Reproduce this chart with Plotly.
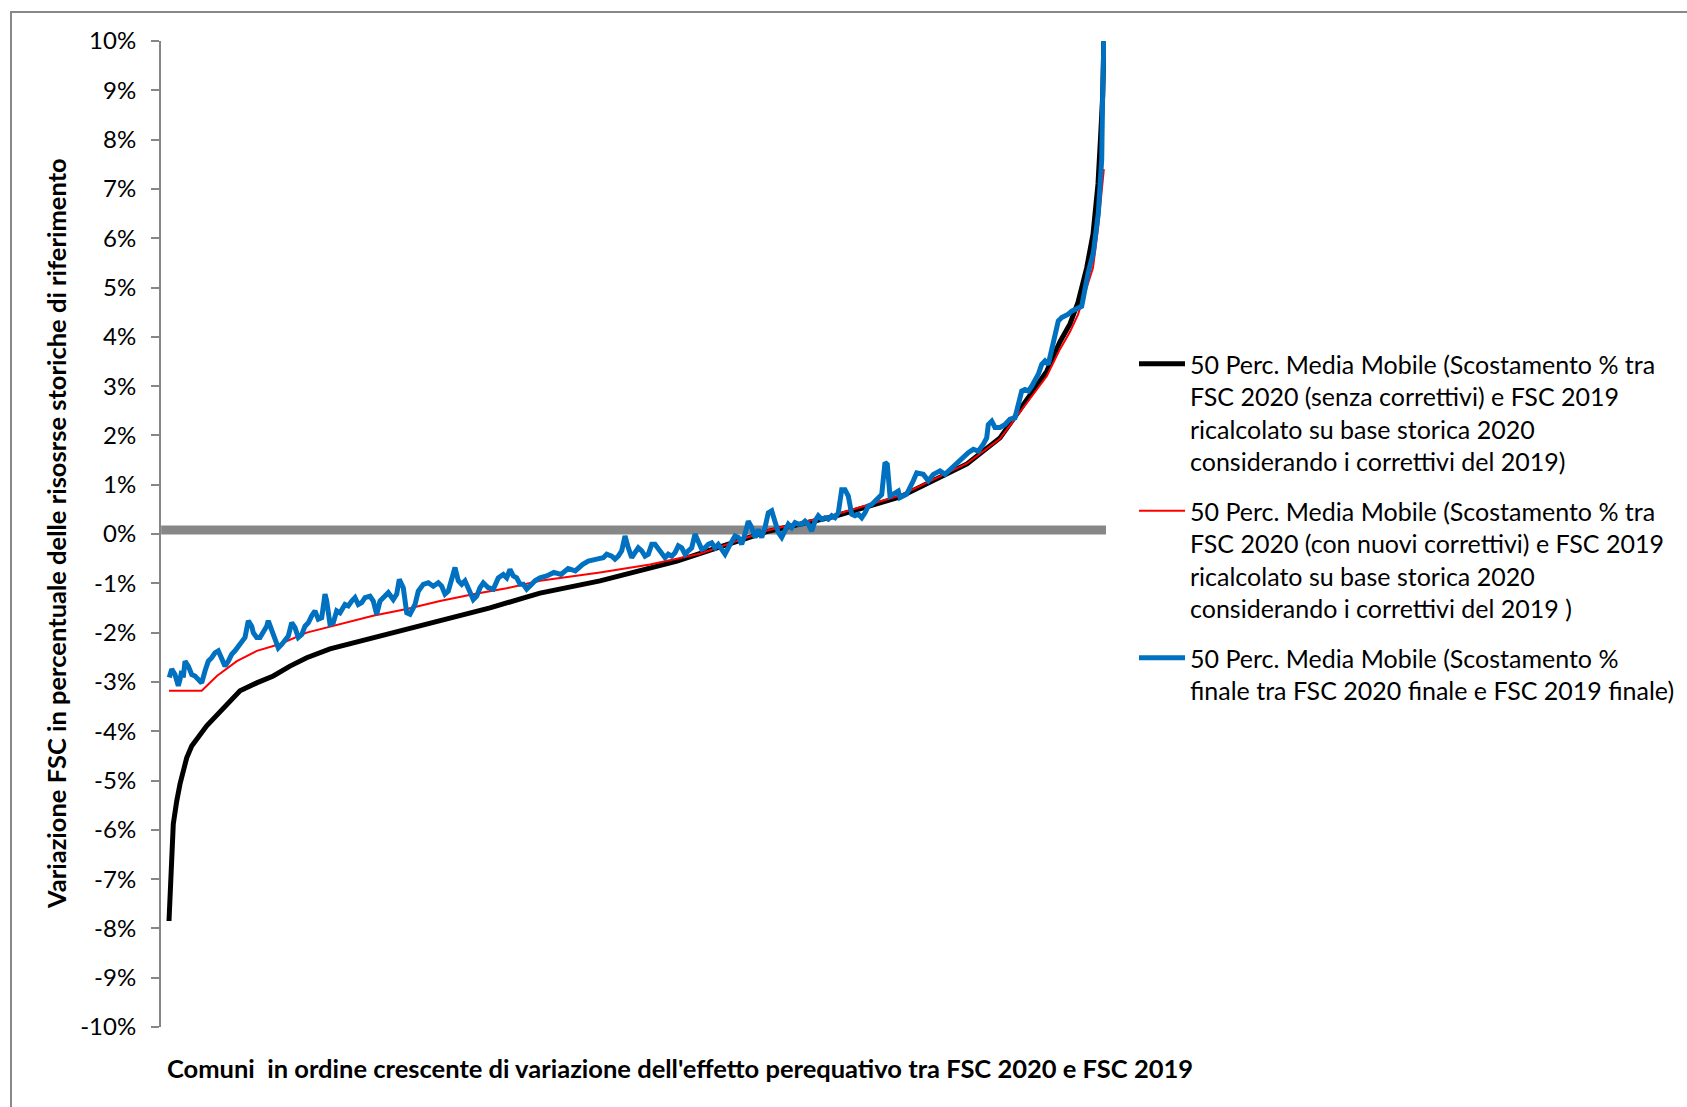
import plotly.graph_objects as go

# ---- data (rank of comune, % value) ----
N_COMUNI = 6615

tick_vals = list(range(-10, 11))
tick_text = [f"{v}%" for v in tick_vals]

soglia_rank = [1, N_COMUNI]
soglia_val = [0.08, 0.08]

nero = [(56, -7.85), (68, -6.84), (86, -5.88), (110, -5.42), (133, -5.07), (180, -4.54),
        (215, -4.30), (320, -3.89), (436, -3.53), (553, -3.18), (670, -3.02), (786, -2.88),
        (903, -2.68), (1020, -2.51), (1183, -2.33), (1370, -2.19), (1603, -2.00), (1834, -1.83),
        (2070, -1.66), (2303, -1.50), (2534, -1.30), (2653, -1.20), (3073, -0.95), (3423, -0.70),
        (3612, -0.55), (3892, -0.28), (4242, 0.05), (4704, 0.35), (4942, 0.55), (5173, 0.75),
        (5642, 1.42), (5873, 1.95), (5990, 2.43), (6104, 2.90), (6200, 3.30), (6293, 3.90),
        (6363, 4.26), (6419, 4.70), (6480, 5.40), (6524, 6.08), (6559, 7.10), (6578, 8.10),
        (6592, 8.90), (6600, 10.0)]

rosso = [(56, -3.18), (285, -3.18), (391, -2.88), (531, -2.58), (671, -2.37), (833, -2.23),
         (1020, -2.00), (1253, -1.83), (1484, -1.66), (1720, -1.52), (1953, -1.36), (2184, -1.22),
         (2420, -1.10), (2653, -0.95), (3073, -0.78), (3423, -0.62), (3773, -0.40), (4242, 0.07),
         (4704, 0.38), (5173, 0.78), (5642, 1.43), (5873, 1.93), (6104, 2.82), (6200, 3.20),
         (6293, 3.75), (6363, 4.10), (6419, 4.45), (6480, 5.00), (6524, 5.40), (6559, 6.20),
         (6600, 7.40)]

blu = [(58, -2.91), (75, -2.74), (98, -2.85), (121, -3.08), (133, -2.95), (145, -2.78),
       (156, -2.91), (168, -2.58), (191, -2.68), (215, -2.85), (238, -2.88), (261, -2.95),
       (285, -3.02), (308, -2.78), (331, -2.58), (355, -2.51), (378, -2.41), (401, -2.37),
       (425, -2.51), (448, -2.68), (471, -2.58), (495, -2.44), (518, -2.37), (541, -2.27),
       (565, -2.17), (588, -2.10), (611, -1.76), (635, -1.87), (646, -2.00), (670, -2.10),
       (693, -2.10), (716, -2.00), (740, -1.87), (751, -1.76), (775, -1.97), (798, -2.10),
       (821, -2.31), (845, -2.24), (868, -2.14), (891, -2.07), (915, -1.80), (938, -1.90),
       (961, -2.10), (985, -2.04), (1008, -1.87), (1031, -1.80), (1055, -1.66), (1078, -1.56),
       (1101, -1.73), (1125, -1.70), (1148, -1.22), (1160, -1.36), (1183, -1.83), (1206, -1.80),
       (1230, -1.56), (1253, -1.60), (1288, -1.43), (1311, -1.46), (1335, -1.36), (1358, -1.29),
       (1381, -1.43), (1405, -1.39), (1428, -1.29), (1463, -1.26), (1486, -1.36), (1510, -1.63),
       (1533, -1.36), (1568, -1.26), (1591, -1.19), (1626, -1.33), (1650, -1.22), (1668, -0.92),
       (1696, -1.09), (1720, -1.60), (1743, -1.63), (1778, -1.43), (1801, -1.16), (1836, -1.02),
       (1871, -0.99), (1906, -1.06), (1941, -0.99), (1965, -1.06), (1988, -1.22), (2011, -1.16),
       (2035, -0.89), (2058, -0.68), (2081, -0.95), (2105, -1.02), (2128, -0.95), (2163, -1.16),
       (2186, -1.33), (2210, -1.26), (2233, -1.09), (2256, -0.99), (2291, -1.09), (2326, -1.12),
       (2361, -0.89), (2396, -0.82), (2420, -0.89), (2443, -0.72), (2466, -0.85), (2490, -0.89),
       (2513, -1.02), (2536, -1.02), (2560, -1.12), (2595, -1.02), (2618, -0.95), (2653, -0.89),
       (2700, -0.85), (2750, -0.78), (2800, -0.82), (2850, -0.70), (2900, -0.75), (2950, -0.62),
       (2991, -0.55), (3050, -0.51), (3096, -0.48), (3120, -0.41), (3155, -0.45), (3178, -0.51),
       (3201, -0.45), (3225, -0.34), (3248, -0.04), (3271, -0.28), (3295, -0.48), (3318, -0.38),
       (3341, -0.28), (3365, -0.34), (3388, -0.45), (3411, -0.41), (3435, -0.21), (3458, -0.21),
       (3481, -0.31), (3505, -0.41), (3528, -0.48), (3551, -0.41), (3575, -0.45), (3598, -0.38),
       (3621, -0.24), (3645, -0.28), (3668, -0.41), (3691, -0.34), (3715, -0.28), (3738, 0.00),
       (3761, -0.14), (3785, -0.31), (3808, -0.28), (3831, -0.21), (3855, -0.18), (3878, -0.28),
       (3901, -0.21), (3925, -0.31), (3948, -0.41), (3971, -0.28), (3995, -0.14), (4018, -0.04),
       (4041, -0.07), (4065, -0.21), (4088, 0.00), (4111, 0.26), (4135, 0.13), (4158, -0.07),
       (4181, 0.09), (4205, -0.07), (4228, 0.13), (4251, 0.43), (4275, 0.47), (4298, 0.20),
       (4321, 0.03), (4345, -0.07), (4368, 0.06), (4391, 0.20), (4415, 0.13), (4438, 0.23),
       (4461, 0.20), (4485, 0.20), (4508, 0.26), (4531, 0.20), (4555, 0.06), (4578, 0.26),
       (4601, 0.37), (4625, 0.30), (4648, 0.33), (4671, 0.30), (4695, 0.37), (4718, 0.33),
       (4741, 0.43), (4765, 0.90), (4788, 0.90), (4811, 0.77), (4835, 0.40), (4858, 0.37),
       (4881, 0.40), (4905, 0.33), (4928, 0.43), (4951, 0.57), (4975, 0.60), (4998, 0.67),
       (5021, 0.74), (5045, 0.80), (5068, 1.45), (5084, 1.41), (5103, 0.77), (5126, 0.80),
       (5161, 0.87), (5173, 0.74), (5220, 0.81), (5266, 1.08), (5290, 1.24), (5336, 1.21),
       (5371, 1.08), (5406, 1.21), (5453, 1.28), (5488, 1.21), (5523, 1.31), (5570, 1.41),
       (5616, 1.55), (5651, 1.65), (5686, 1.72), (5721, 1.68), (5756, 1.82), (5780, 1.95),
       (5791, 2.22), (5815, 2.29), (5838, 2.16), (5873, 2.16), (5908, 2.22), (5943, 2.33),
       (5978, 2.36), (6001, 2.63), (6025, 2.90), (6048, 2.93), (6071, 2.90), (6095, 3.00),
       (6118, 3.10), (6141, 3.24), (6165, 3.44), (6188, 3.51), (6211, 3.44), (6235, 3.78),
       (6258, 4.05), (6281, 4.32), (6305, 4.39), (6328, 4.42), (6351, 4.46), (6375, 4.52),
       (6410, 4.56), (6445, 4.62), (6490, 5.30), (6526, 5.70), (6561, 6.50), (6585, 7.60),
       (6591, 8.80), (6600, 10.0)]

nomi = [
    "50 Perc. Media Mobile (Scostamento % tra<br>FSC 2020 (senza correttivi) e FSC 2019<br>ricalcolato su base storica 2020<br>considerando i correttivi del 2019)",
    "50 Perc. Media Mobile (Scostamento % tra<br>FSC 2020 (con nuovi correttivi) e FSC 2019<br>ricalcolato su base storica 2020<br>considerando i correttivi del 2019 )",
    "50 Perc. Media Mobile (Scostamento %<br>finale tra FSC 2020 finale e FSC 2019 finale)",
]
titolo_x = "Comuni  in ordine crescente di variazione dell'effetto perequativo tra FSC 2020 e FSC 2019"
titolo_y = "Variazione FSC in percentuale delle risosrse storiche di riferimento"

FONT = "Lato"
W, H = 1687, 1107
L, R, T, B = 161, 1106, 41, 1027

fig = go.Figure()
fig.add_trace(go.Scatter(x=soglia_rank, y=soglia_val, mode="lines",
                         line=dict(color="#878787", width=9), showlegend=False, hoverinfo="skip"))
for serie, nome, col, wid, grp in [(nero, nomi[0], "#000000", 5, "g1"),
                                   (rosso, nomi[1], "#FF0000", 2, "g2"),
                                   (blu, nomi[2], "#0070C0", 5, "g3")]:
    fig.add_trace(go.Scatter(x=[p[0] for p in serie], y=[p[1] for p in serie], mode="lines",
                             name=nome, legendgroup=grp, line=dict(color=col, width=wid)))

def px_x(p):
    return (p - L) / (R - L)

def px_y(p):
    return (B - p) / (B - T)

fig.update_layout(
    width=W, height=H,
    margin=dict(l=L, r=W - R, t=T, b=H - B),
    paper_bgcolor="white", plot_bgcolor="white",
    font=dict(family=FONT, color="black", size=22),
    showlegend=True,
    legend=dict(xref="container", yref="container", x=1134 / W, y=1 - 341 / H,
                xanchor="left", yanchor="top", valign="top",
                traceorder="grouped", tracegroupgap=14,
                font=dict(family=FONT, size=25, color="black"),
                itemwidth=46, bgcolor="rgba(0,0,0,0)"),
    xaxis=dict(range=[0, N_COMUNI], showline=False, showticklabels=False, ticks="",
               showgrid=False, zeroline=False, fixedrange=True),
    yaxis=dict(range=[-10, 10], tickvals=tick_vals, ticktext=tick_text,
               showline=True, linecolor="#868686", linewidth=2,
               ticks="outside", ticklen=8, tickwidth=2, tickcolor="#868686",
               ticklabelstandoff=10,
               tickfont=dict(family=FONT, size=24, color="black"),
               showgrid=False, zeroline=False),
    shapes=[dict(type="rect", xref="paper", yref="paper",
                 x0=px_x(11), x1=px_x(1720), y0=px_y(1130), y1=px_y(12),
                 line=dict(color="#888888", width=2), fillcolor="rgba(0,0,0,0)", layer="below")],
    annotations=[
        dict(text=f"<b>{titolo_x}</b>", xref="paper", yref="paper",
             x=px_x(680), y=px_y(1068), xanchor="center", yanchor="middle",
             showarrow=False, font=dict(family=FONT, size=25.5, color="black")),
        dict(text=f"<b>{titolo_y}</b>", xref="paper", yref="paper", textangle=-90,
             x=px_x(56), y=px_y(534), xanchor="center", yanchor="middle",
             showarrow=False, font=dict(family=FONT, size=25.5, color="black")),
    ],
)

fig.write_html("out.html", config={"displayModeBar": False},
               post_script="document.body.style.margin='0';")
